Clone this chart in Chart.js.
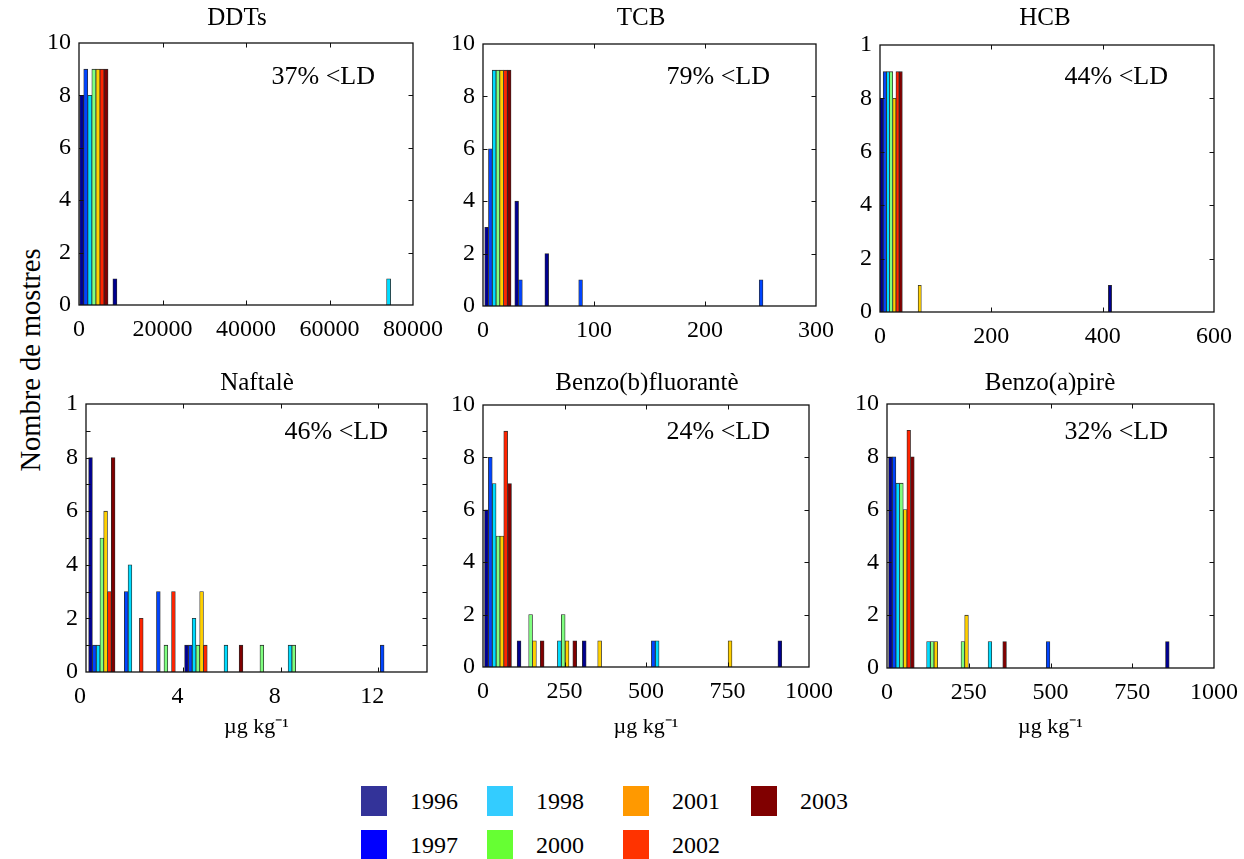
<!DOCTYPE html>
<html>
<head>
<meta charset="utf-8">
<script src="https://cdn.jsdelivr.net/npm/chart.js@4.4.1/dist/chart.umd.min.js"></script>
<style>
html,body{margin:0;padding:0;background:#fff;}
body{width:1244px;height:859px;position:relative;overflow:hidden;font-family:"Liberation Serif","Times New Roman",serif;color:#000;}
canvas{position:absolute;}
#ylab{position:absolute;left:31px;top:360px;transform:translate(-50%,-50%) rotate(-90deg);font-size:28.5px;white-space:nowrap;line-height:1;}
.sw{position:absolute;width:26px;height:30px;}
.tx{position:absolute;font-size:24px;line-height:30px;white-space:nowrap;}
</style>
</head>
<body>
<div id="ylab">Nombre de mostres</div>
<script>
// ---------------- data ----------------
const years = ['1996','1997','1998','2000','2001','2002','2003'];
const barColors = ['#000090','#0044ff','#00dcff','#80ff80','#ffd000','#ff2400','#800000'];
const legendColors = ['#333399','#0000ff','#33ccff','#66ff33','#ff9900','#ff3300','#800000'];

// DDTs (bin centres, counts per year per bin)
const ddtBins = [3560, 11510, 19460, 27420, 35370, 43320, 51270, 59230, 67180, 75130];
const ddtCounts = [
  [8,1,0,0,0,0,0,0,0,0],
  [9,0,0,0,0,0,0,0,0,0],
  [8,0,0,0,0,0,0,0,0,1],
  [9,0,0,0,0,0,0,0,0,0],
  [9,0,0,0,0,0,0,0,0,0],
  [9,0,0,0,0,0,0,0,0,0],
  [9,0,0,0,0,0,0,0,0,0]
];
const ddtXTicks = [0, 20000, 40000, 60000, 80000];

// TCB
const tcbBins = [13.4, 40.5, 67.6, 94.7, 121.8, 148.9, 176.0, 203.1, 230.2, 257.3];
const tcbCounts = [
  [3,4,2,0,0,0,0,0,0,0],
  [6,1,0,1,0,0,0,0,0,1],
  [9,0,0,0,0,0,0,0,0,0],
  [9,0,0,0,0,0,0,0,0,0],
  [9,0,0,0,0,0,0,0,0,0],
  [9,0,0,0,0,0,0,0,0,0],
  [9,0,0,0,0,0,0,0,0,0]
];
const tcbXTicks = [0, 100, 200, 300];

// HCB
const hcbBins = [20, 65.6, 111.2, 156.8, 202.4, 248, 293.6, 339.2, 384.8, 430.4];
const hcbCounts = [
  [8,0,0,0,0,0,0,0,0,1],
  [9,0,0,0,0,0,0,0,0,0],
  [9,0,0,0,0,0,0,0,0,0],
  [9,0,0,0,0,0,0,0,0,0],
  [8,1,0,0,0,0,0,0,0,0],
  [9,0,0,0,0,0,0,0,0,0],
  [9,0,0,0,0,0,0,0,0,0]
];
const hcbXTicks = [0, 200, 400, 600];

// Naftalè
const nafBins = [0.65, 1.96, 3.28, 4.59, 5.90, 7.22, 8.53, 9.84, 11.15, 12.47];
const nafCounts = [
  [8,0,0,1,0,0,0,0,0,0],
  [1,3,3,1,0,0,0,0,0,1],
  [1,4,0,2,1,0,1,0,0,0],
  [5,0,1,1,0,1,1,0,0,0],
  [6,0,0,3,0,0,0,0,0,0],
  [3,2,3,1,0,0,0,0,0,0],
  [8,0,0,0,1,0,0,0,0,0]
];
const nafXTicks = [0, 4, 8, 12];

// Benzo(b)fluorantè
const bbfBins = [46, 146, 246, 346, 446, 546, 646, 746, 846, 946];
const bbfCounts = [
  [6,1,0,1,0,0,0,0,0,1],
  [8,0,0,0,0,1,0,0,0,0],
  [7,0,1,0,0,1,0,0,0,0],
  [5,2,2,0,0,0,0,0,0,0],
  [5,1,1,1,0,0,0,1,0,0],
  [9,0,0,0,0,0,0,0,0,0],
  [7,1,1,0,0,0,0,0,0,0]
];
// Benzo(a)pirè
const bapBins = [44, 138, 232, 326, 420, 515, 609, 703, 797, 891];
const bapCounts = [
  [8,0,0,0,0,0,0,0,0,1],
  [8,0,0,0,0,1,0,0,0,0],
  [7,1,0,1,0,0,0,0,0,0],
  [7,1,1,0,0,0,0,0,0,0],
  [6,1,2,0,0,0,0,0,0,0],
  [9,0,0,0,0,0,0,0,0,0],
  [8,0,0,1,0,0,0,0,0,0]
];
const pahXTicks = [0, 250, 500, 750, 1000];

const yTicks = [0, 2, 4, 6, 8, 10];
const yLabels = ['0','2','4','6','8','10'];
const yLabelsCut = ['0','2','4','6','8','1'];
const yTicksFine = [0,1,2,3,4,5,6,7,8,9,10];
const yLabelsFine = ['0','','2','','4','','6','','8','','1'];

const notes = ['37% <LD','79% <LD','44% <LD','46% <LD','24% <LD','32% <LD'];
const titles = ['DDTs','TCB','HCB','Naftalè','Benzo(b)fluorantè','Benzo(a)pirè'];
const unitLabel = 'µg kg⁻¹';

// ---------------- layout / style ----------------
const panels = [
  {title:titles[0], note:notes[0], bins:ddtBins, counts:ddtCounts, xTicks:ddtXTicks, xMax:80000, yT:yTicks, yL:yLabels,
   L:79, T:43, R:413, B:305, tx:237, ty:18, bar:4.05, nx:38, ny:34, xTitle:null, lo:0},
  {title:titles[1], note:notes[1], bins:tcbBins, counts:tcbCounts, xTicks:tcbXTicks, xMax:300, yT:yTicks, yL:yLabels,
   L:483, T:44, R:816, B:306, tx:641, ty:18, bar:3.76, nx:46, ny:33, xTitle:null, lo:0},
  {title:titles[2], note:notes[2], bins:hcbBins, counts:hcbCounts, xTicks:hcbXTicks, xMax:600, yT:yTicks, yL:yLabelsCut,
   L:880, T:45, R:1214, B:312, tx:1045, ty:18, bar:3.2, nx:46, ny:32, xTitle:null, lo:0},
  {title:titles[3], note:notes[3], bins:nafBins, counts:nafCounts, xTicks:nafXTicks, xMax:14, yT:yTicksFine, yL:yLabelsFine,
   L:86, T:404, R:427, B:672, tx:257, ty:383, bar:3.77, nx:39, ny:28, xTitle:unitLabel, lo:-6},
  {title:titles[4], note:notes[4], bins:bbfBins, counts:bbfCounts, xTicks:pahXTicks, xMax:1000, yT:yTicks, yL:yLabels,
   L:483, T:405, R:809, B:667, tx:647, ty:383, bar:3.85, nx:39, ny:27, xTitle:unitLabel, lo:0},
  {title:titles[5], note:notes[5], bins:bapBins, counts:bapCounts, xTicks:pahXTicks, xMax:1000, yT:yTicks, yL:yLabels,
   L:887, T:404, R:1214, B:668, tx:1050, ty:383, bar:3.67, nx:46, ny:28, xTitle:unitLabel, lo:0}
];

const FONT = '"Liberation Serif","Times New Roman",serif';
Chart.defaults.font.family = FONT;
Chart.defaults.color = '#000';

const framePlugin = {
  id: 'frame',
  afterDatasetsDraw(chart, args, opts) {
    const {ctx, chartArea: a} = chart;
    const x = chart.scales.x, y = chart.scales.y;
    ctx.save();
    ctx.strokeStyle = '#111';
    ctx.lineWidth = 1;
    const TL = 4.5;
    const seg = (x1, y1, x2, y2) => { ctx.beginPath(); ctx.moveTo(x1, y1); ctx.lineTo(x2, y2); ctx.stroke(); };
    x.ticks.forEach(t => {
      const px = Math.round(x.getPixelForValue(t.value)) + 0.5;
      if (px <= a.left + 1 || px >= a.right - 1) return;
      seg(px, a.bottom, px, a.bottom - TL);
      seg(px, a.top, px, a.top + TL);
    });
    y.ticks.forEach(t => {
      const py = Math.round(y.getPixelForValue(t.value)) + 0.5;
      if (py <= a.top + 1 || py >= a.bottom - 1) return;
      seg(a.left, py, a.left + TL, py);
      seg(a.right, py, a.right - TL, py);
    });
    ctx.lineWidth = 1.3;
    ctx.strokeRect(a.left, a.top, a.right - a.left, a.bottom - a.top);
    ctx.fillStyle = '#000';
    ctx.font = '26px ' + FONT;
    ctx.textAlign = 'right';
    ctx.textBaseline = 'middle';
    ctx.fillText(opts.text, a.right - opts.dx, a.top + opts.dy);
    ctx.restore();
  }
};

const YW = 75;
panels.forEach(p => {
  const cl = p.L - YW;
  const cw = 2 * (p.tx - cl);
  const padR = cl + cw - p.R;
  const ct = p.ty - 15;
  const XH = p.xTitle ? 740 - p.B : 45;
  const ch = p.B + XH - ct;
  const canvas = document.createElement('canvas');
  canvas.width = cw; canvas.height = ch;
  canvas.style.left = cl + 'px'; canvas.style.top = ct + 'px';
  canvas.style.width = cw + 'px'; canvas.style.height = ch + 'px';
  document.body.appendChild(canvas);

  const datasets = years.map((yr, j) => ({
    label: yr,
    data: p.bins.map((b, k) => ({x: b, y: p.counts[j][k] ? p.counts[j][k] : null})),
    backgroundColor: barColors[j],
    borderColor: '#2a2a2a',
    borderWidth: 0.8,
    barThickness: p.bar
  }));

  new Chart(canvas, {
    type: 'bar',
    data: {datasets},
    options: {
      responsive: false,
      animation: false,
      devicePixelRatio: 1,
      layout: {padding: 0},
      events: [],
      plugins: {
        legend: {display: false},
        tooltip: {enabled: false},
        title: {display: true, text: p.title, font: {size: 25, weight: 'normal'}, color: '#000',
                padding: {top: 0, bottom: p.T - ct - 30}, fullSize: true},
        frame: {text: p.note, dx: p.nx, dy: p.ny}
      },
      scales: {
        x: {
          type: 'linear', min: 0, max: p.xMax, offset: false,
          grid: {display: false, drawTicks: false, offset: false},
          border: {display: false},
          afterBuildTicks: s => { s.ticks = p.xTicks.map(v => ({value: v})); },
          afterFit: s => { s.height = XH; },
          ticks: {font: {size: 24}, color: '#000', padding: 10, maxRotation: 0, minRotation: 0, autoSkip: false,
                  labelOffset: p.lo, callback: v => String(v)},
          title: p.xTitle ? {display: true, text: p.xTitle, font: {size: 22}, color: '#000', padding: {top: 0, bottom: 0}}
                          : {display: false}
        },
        y: {
          type: 'linear', min: 0, max: 10,
          grid: {display: false, drawTicks: false},
          border: {display: false},
          afterBuildTicks: s => { s.ticks = p.yT.map(v => ({value: v})); },
          afterFit: s => { s.width = YW; },
          ticks: {font: {size: 24}, color: '#000', padding: 8, autoSkip: false,
                  callback: (v, i) => p.yL[i]}
        },
        yr: {
          type: 'linear', position: 'right', display: true,
          grid: {display: false, drawTicks: false}, border: {display: false},
          ticks: {display: false},
          afterFit: s => { s.width = padR; }
        }
      }
    },
    plugins: [framePlugin]
  });
});

// legend (HTML)
const legCols = [361, 487, 623, 751];
const legRows = [786, 830];
years.forEach((yr, i) => {
  const c = Math.floor(i / 2), r = i % 2;
  const sw = document.createElement('div');
  sw.className = 'sw';
  sw.style.left = legCols[c] + 'px'; sw.style.top = legRows[r] + 'px';
  sw.style.background = legendColors[i];
  document.body.appendChild(sw);
  const tx = document.createElement('div');
  tx.className = 'tx';
  tx.style.left = (legCols[c] + 49) + 'px'; tx.style.top = legRows[r] + 'px';
  tx.textContent = yr;
  document.body.appendChild(tx);
});
</script>
</body>
</html>
